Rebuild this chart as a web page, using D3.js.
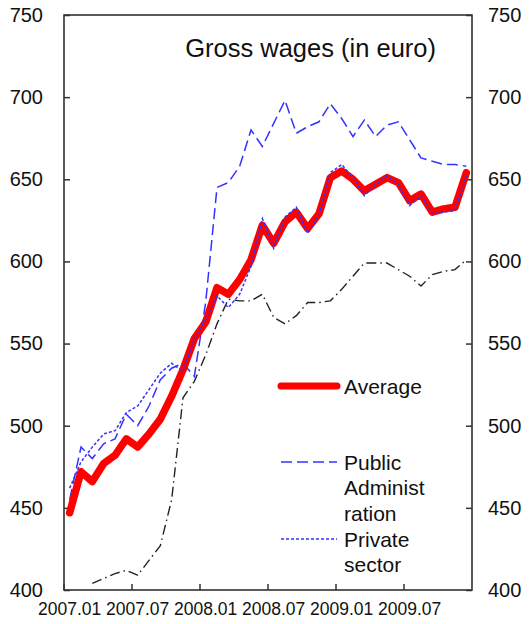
<!DOCTYPE html>
<html><head><meta charset="utf-8">
<script src="https://cdn.jsdelivr.net/npm/d3@7"></script>
<style>body{margin:0;background:#fff} svg{display:block;font-family:"Liberation Sans",Arial,sans-serif}</style>
</head><body><svg id="c" width="531" height="624"></svg>
<script>
const months = ["2007.01","2007.02","2007.03","2007.04","2007.05","2007.06","2007.07","2007.08","2007.09","2007.10","2007.11","2007.12",
"2008.01","2008.02","2008.03","2008.04","2008.05","2008.06","2008.07","2008.08","2008.09","2008.10","2008.11","2008.12",
"2009.01","2009.02","2009.03","2009.04","2009.05","2009.06","2009.07","2009.08","2009.09","2009.10","2009.11","2009.12"];
const tickLabels = ["2007.01","2007.07","2008.01","2008.07","2009.01","2009.07"];
const yTicks = [400,450,500,550,600,650,700,750];
const average = [447,472,466,477,482,492,487,495,504,518,534,553,563,584,580,589,601,622,611,624,630,620,629,651,655,650,643,647,651,648,637,641,630,632,633,654];
const publicAdmin = [455,487,480,489,492,507,500,512,528,535,538,530,575,645,648,658,680,670,684,698,678,682,685,696,687,676,686,676,683,685,674,663,661,659,659,658];
const privateSector = [462,478,487,495,497,508,512,522,532,538,533,553,565,579,572,580,597,626,608,627,633,617,628,654,659,651,640,647,652,647,634,640,629,630,631,652];
const otherSeries = [null,null,404,407,410,412,409,418,427,455,517,527,543,562,577,576,576,580,566,562,567,575,575,576,583,591,599,599,599,595,591,585,592,594,595,601];

const svg = d3.select("#c");
const L = 64, R = 472, T = 15, B = 590;
const x = d3.scaleBand().domain(months).range([L, R]);
const y = d3.scaleLinear().domain([400, 750]).range([B, T]);
const cx = (d, i) => x(months[i]) + x.bandwidth() / 2;

// axes
const gl = svg.append("g").attr("transform", `translate(${L},0)`)
  .call(d3.axisLeft(y).tickValues(yTicks).tickSize(-6).tickPadding(21));
const gr = svg.append("g").attr("transform", `translate(${R},0)`)
  .call(d3.axisRight(y).tickValues(yTicks).tickSize(-6).tickPadding(16));
const gb = svg.append("g").attr("transform", `translate(0,${B})`)
  .call(d3.axisBottom(x).tickValues(tickLabels).tickSize(0).tickPadding(13));
[gl, gr, gb].forEach(g => {
  g.select(".domain").remove();
  g.selectAll("line").attr("stroke", "#333").attr("stroke-width", 1.5);
  g.selectAll("text").attr("fill", "#111").style("font-family", '"Liberation Sans",Arial,sans-serif');
});
gl.selectAll("text").style("font-size", "20px");
gr.selectAll("text").style("font-size", "20px");
gb.selectAll("text").style("font-size", "17.5px");
// bottom ticks at category boundaries
svg.append("g").selectAll("line").data(tickLabels).join("line")
  .attr("x1", d => x(d)).attr("x2", d => x(d))
  .attr("y1", B).attr("y2", B - 6)
  .attr("stroke", "#333").attr("stroke-width", 1.5);

// frame
svg.append("rect").attr("x", L).attr("y", T).attr("width", R - L).attr("height", B - T)
  .attr("fill", "none").attr("stroke", "#333").attr("stroke-width", 1.6);

const line = d3.line().defined(d => d != null).x(cx).y(d => y(d));
const plot = svg.append("g");
plot.append("path").datum(otherSeries).attr("d", line).attr("fill", "none")
  .attr("stroke", "#222").attr("stroke-width", 1.4).attr("stroke-dasharray", "10,4,1.5,4");
plot.append("path").datum(publicAdmin).attr("d", line).attr("fill", "none")
  .attr("stroke", "#3333ff").attr("stroke-width", 1.5).attr("stroke-dasharray", "11,5");
plot.append("path").datum(average).attr("d", line).attr("fill", "none")
  .attr("stroke", "#ff0000").attr("stroke-width", 7.5).attr("stroke-linejoin", "round").attr("stroke-linecap", "round");
plot.append("path").datum(privateSector).attr("d", line).attr("fill", "none")
  .attr("stroke", "#3333ff").attr("stroke-width", 1.5).attr("stroke-dasharray", "3,2");

// title
svg.append("text").attr("x", 436).attr("y", 57).attr("text-anchor", "end")
  .style("font-size", "25.5px").attr("fill", "#111").text("Gross wages (in euro)");

// legend
const legend = [
  {lines: ["Average"], color: "#ff0000", w: 7, dash: null, y: 386},
  {lines: ["Public", "Administ", "ration"], color: "#3333ff", w: 1.5, dash: "11,5", y: 462},
  {lines: ["Private", "sector"], color: "#3333ff", w: 1.5, dash: "3,2", y: 539}
];
const lg = svg.append("g");
legend.forEach(l => {
  lg.append("line").attr("x1", 281).attr("x2", 337).attr("y1", l.y).attr("y2", l.y)
    .attr("stroke", l.color).attr("stroke-width", l.w).attr("stroke-linecap", l.dash ? "butt" : "round")
    .attr("stroke-dasharray", l.dash);
  l.lines.forEach((t, k) => {
    lg.append("text").attr("x", 344).attr("y", l.y + 7.5 + k * 25.5)
      .style("font-size", "21px").attr("fill", "#111").text(t);
  });
});
</script></body></html>
